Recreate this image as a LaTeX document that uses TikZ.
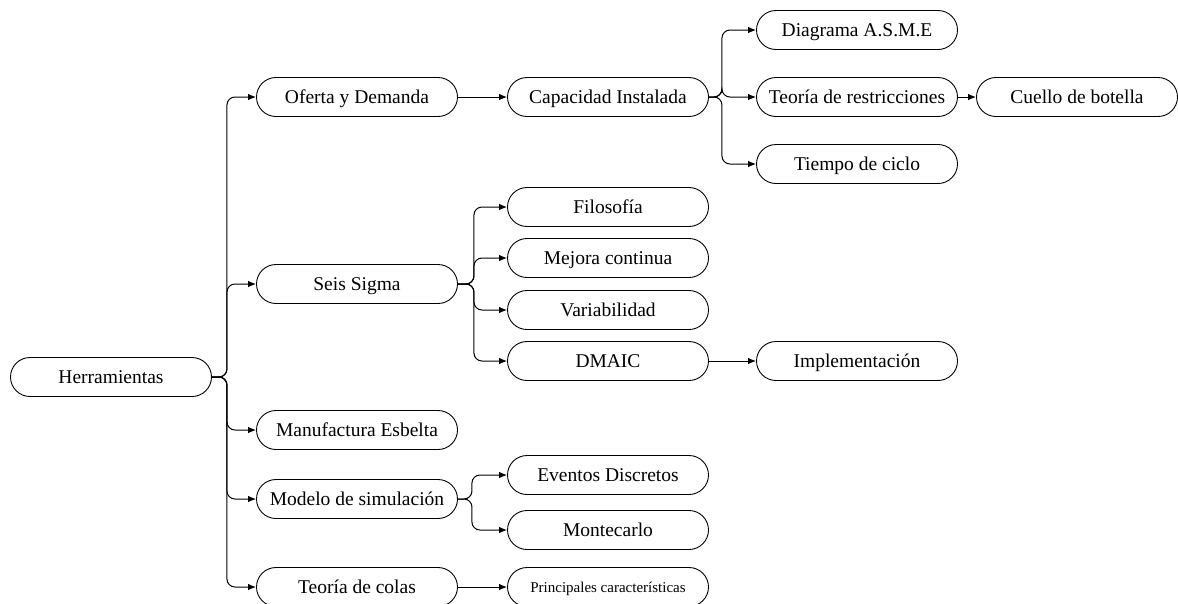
\documentclass[tikz,border=0pt]{standalone}
\usepackage{fontspec}
\setmainfont{Liberation Serif}
\usetikzlibrary{arrows.meta}
\begin{document}
\begin{tikzpicture}[x=1pt,y=-1pt,
  box/.style={draw, line width=0.9pt, rectangle, rounded corners=19.5pt,
    minimum width=201pt, minimum height=39pt, inner sep=0pt,
    text height=14pt, text depth=2pt,
    font=\fontsize{19.5}{22}\selectfont},
  smallbox/.style={box, text height=12pt, text depth=1pt,
    font=\fontsize{15}{17}\selectfont},
  conn/.style={line width=1pt, rounded corners=8pt,
    -{Latex[length=8pt,width=6.5pt]}}]
\useasboundingbox (0,0) rectangle (1178,603);

% level 0
\node[box] (herr) at (111,377) {Herramientas};
% level 1
\node[box] (ofe)  at (357,97)  {Oferta y Demanda};
\node[box] (seis) at (357,284) {Seis Sigma};
\node[box] (manu) at (357,430) {Manufactura Esbelta};
\node[box] (mod)  at (357,499) {Modelo de simulación};
\node[box] (col)  at (357,587) {Teoría de colas};
% level 2
\node[box] (cap)  at (608,97)  {Capacidad Instalada};
\node[box] (fil)  at (608,207) {Filosofía};
\node[box] (mej)  at (608,258) {Mejora continua};
\node[box] (var)  at (608,310) {Variabilidad};
\node[box] (dma)  at (608,361) {DMAIC};
\node[box] (eve)  at (608,475) {Eventos Discretos};
\node[box] (mon)  at (608,530) {Montecarlo};
\node[smallbox] (pri) at (608,587) {Principales características};
% level 3
\node[box] (asme) at (857,30)  {Diagrama A.S.M.E};
\node[box] (res)  at (857,97)  {Teoría de restricciones};
\node[box] (tie)  at (857,164) {Tiempo de ciclo};
\node[box] (imp)  at (857,361) {Implementación};
% level 4
\node[box] (cue)  at (1077,97) {Cuello de botella};

% branches from Herramientas
\foreach \c in {ofe,seis,manu,mod,col}
  \draw[conn] (herr.east) -- ++(15,0) |- (\c.west);
% branches from Oferta y Demanda
\draw[conn] (ofe.east) -- (cap.west);
% branches from Capacidad Instalada
\foreach \c in {asme,res,tie}
  \draw[conn] (cap.east) -- ++(13,0) |- (\c.west);
\draw[conn] (res.east) -- (cue.west);
% branches from Seis Sigma
\foreach \c in {fil,mej,var,dma}
  \draw[conn] (seis.east) -- ++(16,0) |- (\c.west);
\draw[conn] (dma.east) -- (imp.west);
% branches from Modelo de simulación
\foreach \c in {eve,mon}
  \draw[conn] (mod.east) -- ++(14,0) |- (\c.west);
% Teoría de colas
\draw[conn] (col.east) -- (pri.west);
\end{tikzpicture}
\end{document}
